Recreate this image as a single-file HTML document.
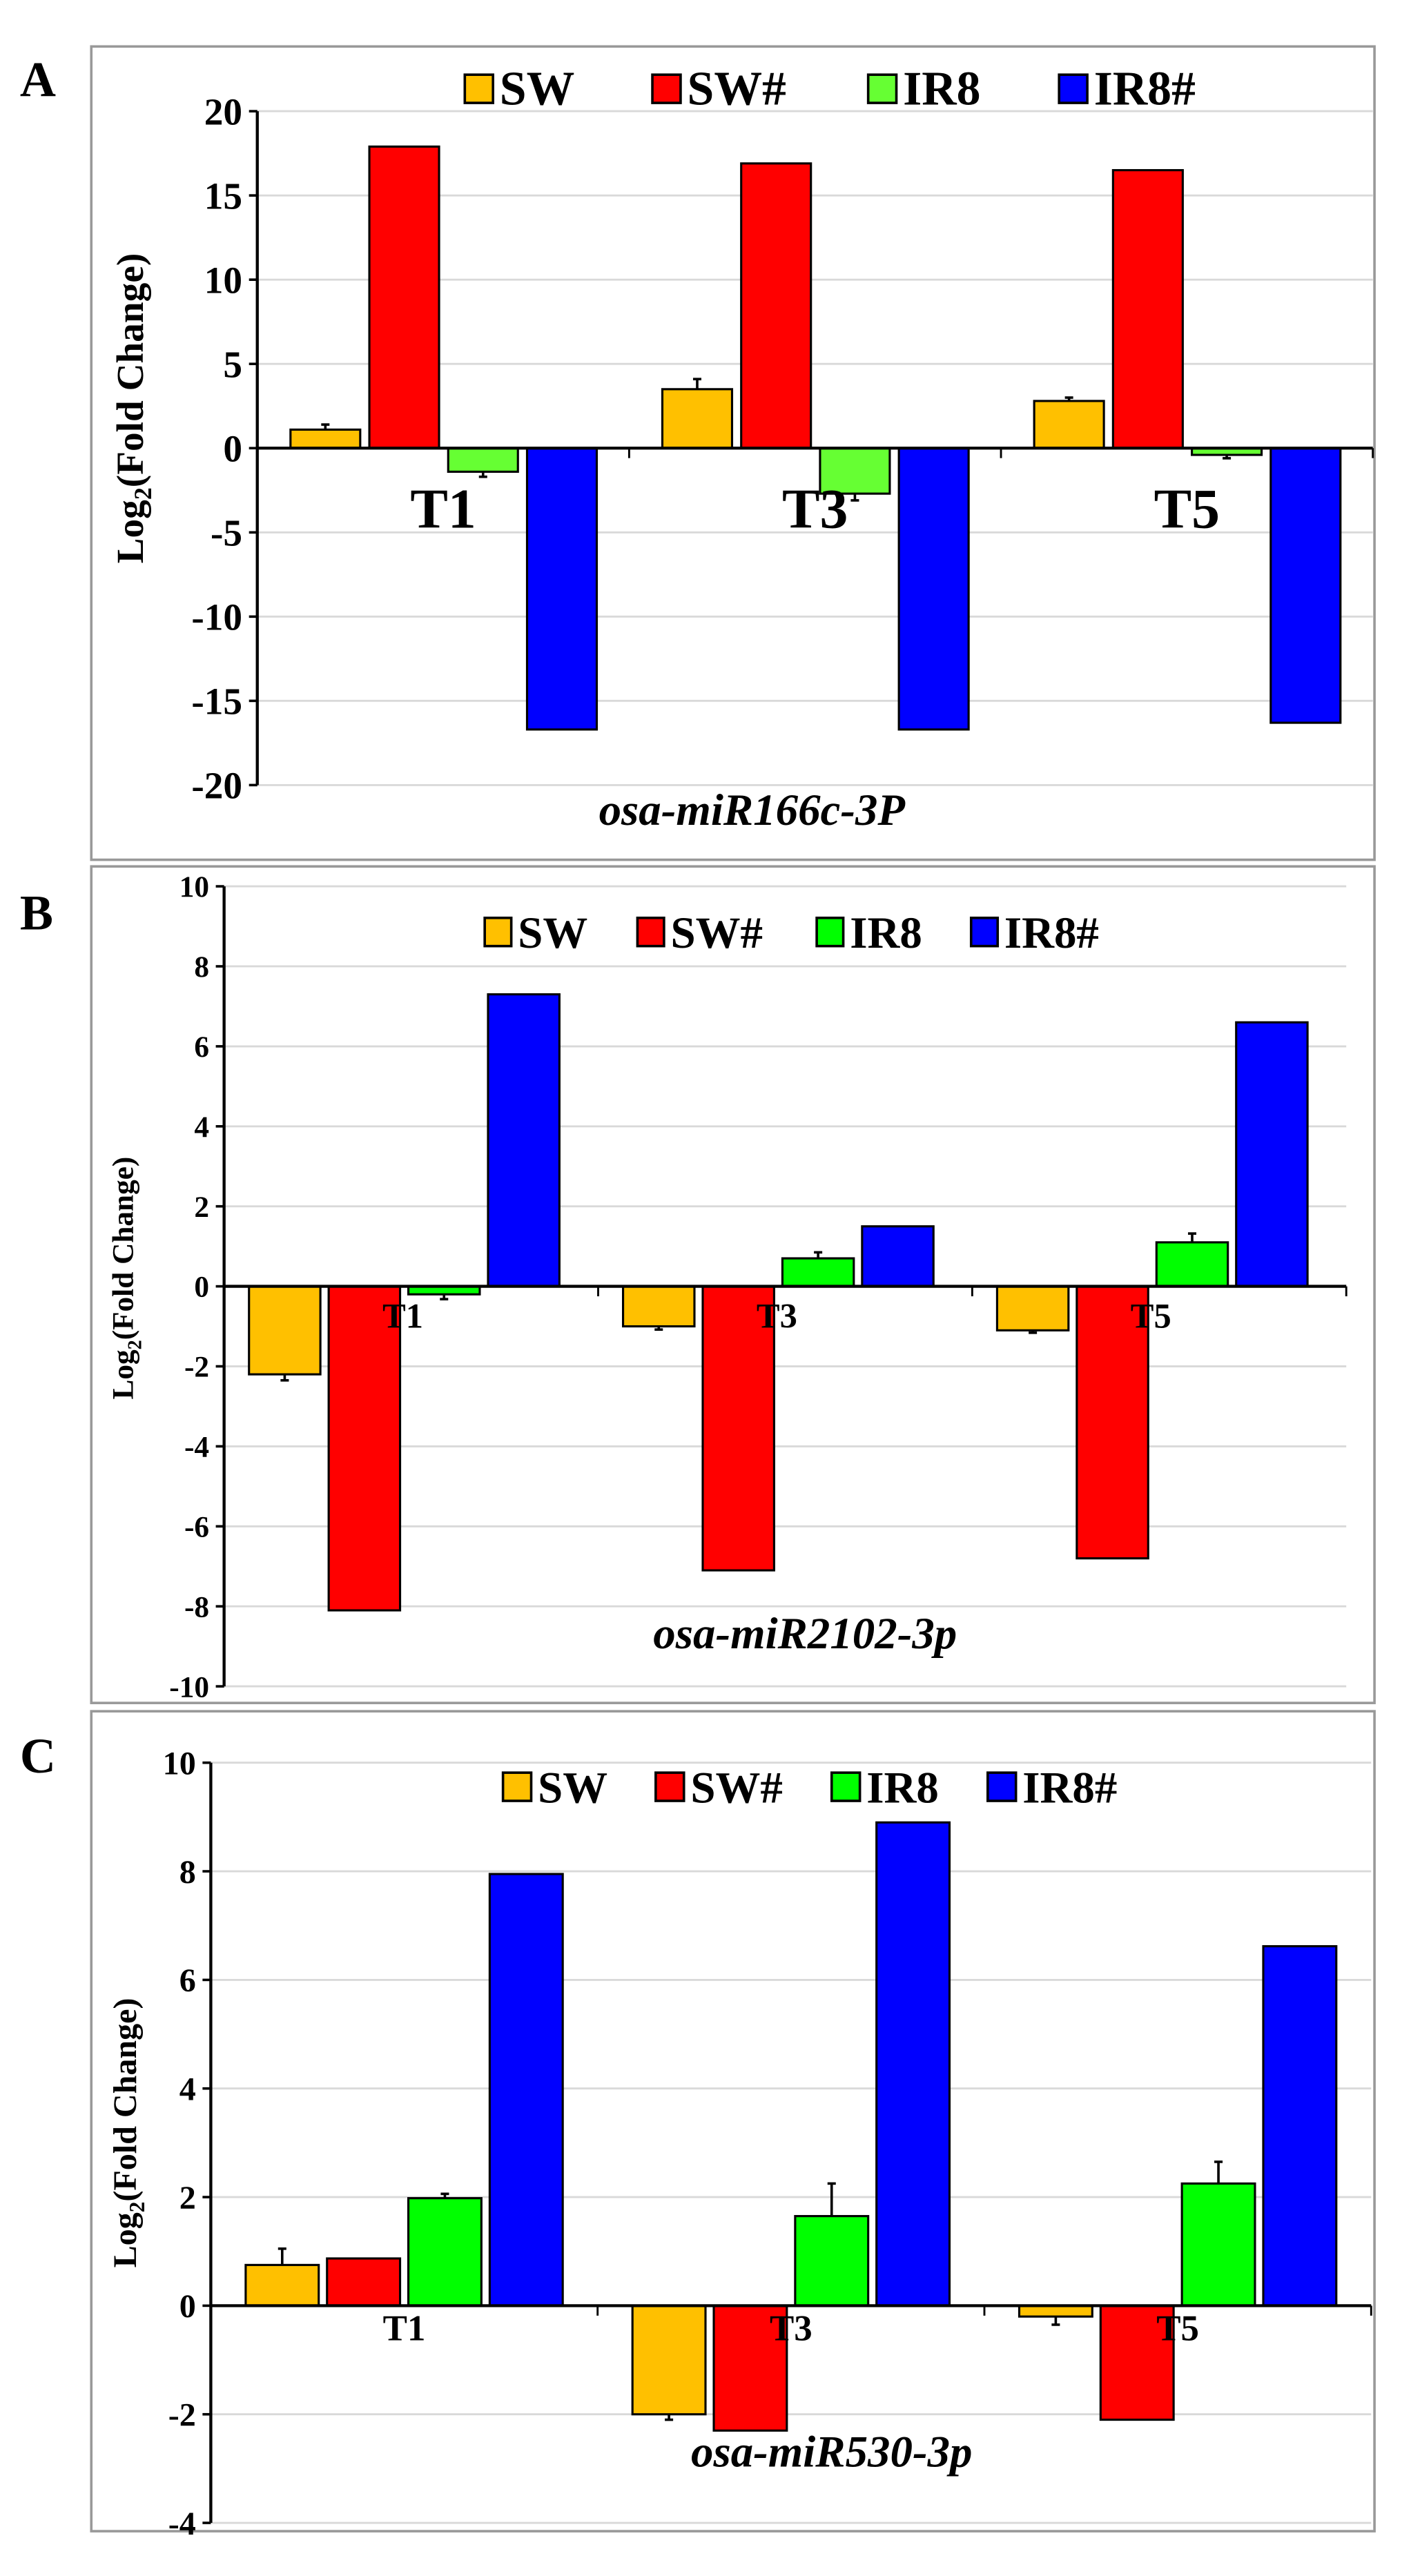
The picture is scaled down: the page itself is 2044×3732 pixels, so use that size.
<!DOCTYPE html>
<html><head><meta charset="utf-8"><style>
html,body{margin:0;padding:0;background:#fff}
svg{display:block}
text{font-family:"Liberation Serif",serif;font-weight:bold}
</style></head><body>
<svg id="fig" width="2044" height="3732" viewBox="0 0 850 1552" preserveAspectRatio="none" xmlns="http://www.w3.org/2000/svg"></svg>
<script>
const categories = ["T1","T3","T5"];
const seriesNames = ["SW","SW#","IR8","IR8#"];
const seriesColors = ["#ffc000","#ff0000","#66ff33","#0000ff"];
const seriesColorsBC = ["#ffc000","#ff0000","#00ff00","#0000ff"];

const aSW = [1.1, 3.5, 2.8];
const aSWh = [17.9, 16.9, 16.5];
const aIR8 = [-1.4, -2.7, -0.4];
const aIR8h = [-16.7, -16.7, -16.3];
const aErrSW = [0.3, 0.6, 0.2];
const aErrIR8 = [-0.3, -0.4, -0.2];
const aTicks = [20,15,10,5,0,-5,-10,-15,-20];

const bSW = [-2.2, -1.0, -1.1];
const bSWh = [-8.1, -7.1, -6.8];
const bIR8 = [-0.2, 0.7, 1.1];
const bIR8h = [7.3, 1.5, 6.6];
const bErrSW = [-0.15, -0.08, -0.06];
const bErrIR8 = [-0.12, 0.15, 0.22];
const bTicks = [10,8,6,4,2,0,-2,-4,-6,-8,-10];

const cSW = [0.75, -2.0, -0.2];
const cSWh = [0.87, -2.3, -2.1];
const cIR8 = [1.98, 1.65, 2.25];
const cIR8h = [7.95, 8.9, 6.62];
const cErrSW = [0.3, -0.1, -0.15];
const cErrIR8 = [0.08, 0.6, 0.4];
const cTicks = [10,8,6,4,2,0,-2,-4];

const NS="http://www.w3.org/2000/svg";
const svg=document.getElementById('fig');
function mk(tag,attrs,parent){const e=document.createElementNS(NS,tag);for(const k in attrs)e.setAttribute(k,attrs[k]);(parent||svg).appendChild(e);return e;}

function panel(p){
  const g=mk('g',{});
  
  
  const box=mk('rect',{x:55,y:p.boxTop,width:773,height:p.boxBot-p.boxTop,fill:'none',stroke:'#999','stroke-width':1.5},g);
  
  
  const lab=mk('text',{x:12,y:p.labelY,'font-size':30},g);lab.textContent=p.id;
  
  
  const vmax=p.ticks[0], vmin=p.ticks[p.ticks.length-1];
  const y=v=>p.yTop+(vmax-v)/(vmax-vmin)*(p.yBot-p.yTop);
  p.ticks.forEach(t=>{
    const gl=mk('line',{x1:p.ax,x2:p.right,y1:y(t),y2:y(t),stroke:'#d9d9d9','stroke-width':1.2},g);
    
    
    mk('line',{x1:p.ax-5,x2:p.ax,y1:y(t),y2:y(t),stroke:'#000','stroke-width':1.5},g);
    const tl=mk('text',{x:p.ax-9,y:y(t)+p.tickFs*0.35,'font-size':p.tickFs,'text-anchor':'end'},g);
    tl.textContent=t;
    
    
  });
  const yax=mk('line',{x1:p.ax,x2:p.ax,y1:y(vmax),y2:y(vmin),stroke:'#000','stroke-width':1.8},g);
  
  
  const cw=(p.right-p.ax)/categories.length;
  const series=[p.sw,p.swh,p.ir8,p.ir8h];
  categories.forEach((c,i)=>{
    const x0=p.ax+i*cw;
    series.forEach((s,k)=>{
      const v=s[i];const bx=x0+p.off+k*p.step;
      const r=mk('rect',{x:bx,y:Math.min(y(v),y(0)),width:p.bw,height:Math.abs(y(v)-y(0)),fill:p.colors[k],stroke:'#000','stroke-width':1.3},g);
      
      
      const err=k===0?p.errSW[i]:(k===2?p.errIR8[i]:null);
      if(err!==null){
        const cx=bx+p.bw/2;
        const e=mk('line',{x1:cx,x2:cx,y1:y(v),y2:y(v+err),stroke:'#000','stroke-width':1.5},g);
        
        
        mk('line',{x1:cx-2.5,x2:cx+2.5,y1:y(v+err),y2:y(v+err),stroke:'#000','stroke-width':1.5},g);
      }
    });
    const ct=mk('text',{x:x0+cw/2+p.catDx,y:p.catY,'font-size':p.catFs,'text-anchor':'middle'},g);
    ct.textContent=c;
    
    
    if(i>0) mk('line',{x1:x0,x2:x0,y1:y(0),y2:y(0)+6,stroke:'#000','stroke-width':1.2},g);
  });
  mk('line',{x1:p.right,x2:p.right,y1:y(0),y2:y(0)+6,stroke:'#000','stroke-width':1.2},g);
  const zx=mk('line',{x1:p.ax,x2:p.right,y1:y(0),y2:y(0),stroke:'#000','stroke-width':1.8},g);
  
  
  const yt=mk('text',{transform:`translate(${p.ytX},${(p.yTop+p.yBot)/2+p.ytDy}) rotate(-90)`,'font-size':p.ytFs,'text-anchor':'middle'},g);
  yt.innerHTML='Log<tspan font-size="'+(p.ytFs*0.65)+'" dy="5">2</tspan><tspan dy="-5">(Fold Change)</tspan>';
  
  
  const tt=mk('text',{x:p.titleX,y:p.titleY,'font-size':p.titleFs,'text-anchor':'middle','font-style':'italic'},g);
  tt.textContent=p.title;
  
  
  seriesNames.forEach((n,k)=>{
    const lx=p.legX[k];
    const sq=mk('rect',{x:lx,y:p.legY-15,width:p.legSq,height:17,fill:p.colors[k],stroke:'#000','stroke-width':1.5},g);
    
    
    const lt=mk('text',{x:lx+p.legSq+4,y:p.legY+3,'font-size':p.legFs},g);
    lt.textContent=n;
    
    
  });
}

panel({id:'A',boxTop:28,boxBot:518,labelY:58,ticks:aTicks,yTop:67,yBot:473,ax:155,right:827,off:20,step:47.5,bw:42,
  sw:aSW,swh:aSWh,ir8:aIR8,ir8h:aIR8h,errSW:aErrSW,errIR8:aErrIR8,colors:seriesColors,
  tickFs:23,catFs:34,catY:318,catDx:0,ytX:86,ytDy:-24,ytFs:23,title:'osa-miR166c-3P',titleX:453,titleY:497,titleFs:27,
  legX:[280,393,523,638],legY:60,legSq:17,legFs:29});
panel({id:'B',boxTop:522,boxBot:1026,labelY:560,ticks:bTicks,yTop:534,yBot:1016,ax:135,right:811,off:15,step:48,bw:43,
  sw:bSW,swh:bSWh,ir8:bIR8,ir8h:bIR8h,errSW:bErrSW,errIR8:bErrIR8,colors:seriesColorsBC,
  tickFs:18,catFs:21,catY:800,catDx:-5,ytX:80,ytDy:-5,ytFs:18,title:'osa-miR2102-3p',titleX:485,titleY:993,titleFs:27,
  legX:[292,384,492,585],legY:568,legSq:16,legFs:27});
panel({id:'C',boxTop:1031,boxBot:1525,labelY:1068,ticks:cTicks,yTop:1062,yBot:1520,ax:127,right:826,off:21,step:49,bw:44,
  sw:cSW,swh:cSWh,ir8:cIR8,ir8h:cIR8h,errSW:cErrSW,errIR8:cErrIR8,colors:seriesColorsBC,
  tickFs:20,catFs:22,catY:1410,catDx:0,ytX:82,ytDy:-6,ytFs:20,title:'osa-miR530-3p',titleX:501,titleY:1486,titleFs:27,
  legX:[303,395,501,595],legY:1083,legSq:17,legFs:27});
</script>
</body></html>
